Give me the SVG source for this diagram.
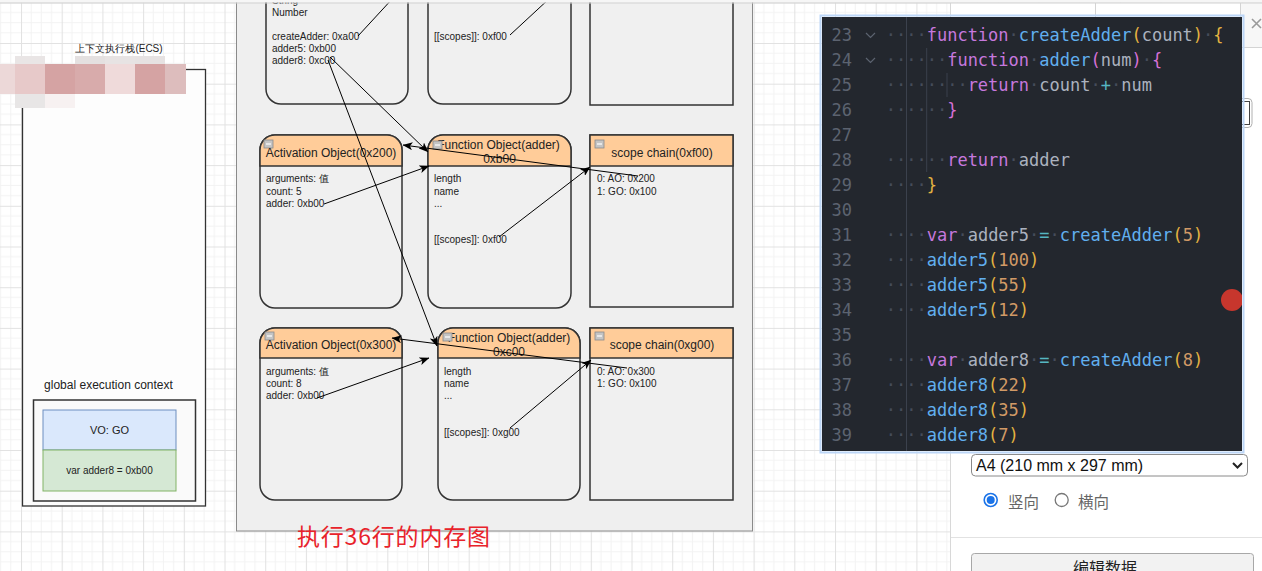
<svg xmlns="http://www.w3.org/2000/svg" width="1262" height="571" viewBox="0 0 1262 571">
<style>
.t{font-family:"Liberation Sans",Arial,sans-serif;fill:#222}
.b10{font-size:10px}
.h12{font-size:12px}
.node{fill:#f0f0f0;stroke:#333;stroke-width:1.5}
.hdr{fill:#ffcc99;stroke:#333;stroke-width:1.5}
.conn{stroke:#000;stroke-width:1;fill:none}
.code{font-family:"DejaVu Sans Mono","Liberation Mono",monospace;font-size:17px;fill:#abb2bf}
.ln{fill:#5c6370;text-anchor:end}
.kw{fill:#c678dd}.fn{fill:#61afef}.b1{fill:#e3b341}.b2{fill:#d670d6}.op{fill:#56b6c2}.nm{fill:#d19a66}.ws{fill:#454c5a}
.ui{font-family:"Liberation Sans",Arial,"Noto Sans CJK SC",sans-serif}
</style>
<defs>
<pattern id="grid" x="21" y="43" width="40.7" height="40.7" patternUnits="userSpaceOnUse">
<rect width="40.7" height="40.7" fill="#fff"/>
<path d="M10.2,0V40.7M20.35,0V40.7M30.5,0V40.7M0,10.2H40.7M0,20.35H40.7M0,30.5H40.7" stroke="#f3f3f3" stroke-width="1"/>
<path d="M0.5,0V40.7M0,0.5H40.7" stroke="#e2e2e2" stroke-width="1"/>
</pattern>
<marker id="arr" markerWidth="10" markerHeight="8" refX="9.5" refY="4" orient="auto" markerUnits="userSpaceOnUse">
<path d="M0,0 L10,4 L0,8 L2.5,4 Z" fill="#000"/>
</marker>
<clipPath id="panelclip"><rect x="822" y="17" width="420" height="434"/></clipPath>
<g id="minus"><rect x="0" y="0" width="9" height="8" fill="#c4c4c4" stroke="#8a8a8a" stroke-width="0.8"/><path d="M2,4H7" stroke="#fff" stroke-width="1.2"/></g>
</defs>

<rect width="1262" height="571" fill="url(#grid)"/>

<!-- left: ECS -->
<g id="ecs">
<rect x="22.5" y="69.5" width="183" height="436.5" fill="#fdfdfd" stroke="#333" stroke-width="1.3"/>
<text class="t" x="119" y="51.5" font-size="10" text-anchor="middle" font-family="Liberation Sans, Noto Sans CJK SC, sans-serif">上下文执行栈(ECS)</text>
</g>
<g id="gec">
<text class="t h12" x="108.5" y="389" text-anchor="middle">global execution context</text>
<rect x="33.5" y="400" width="162" height="101" fill="#fafafa" stroke="#333" stroke-width="1.5"/>
</g>
<g id="vo">
<rect x="43" y="410" width="133" height="40" fill="#dae8fc" stroke="#6c8ebf"/>
<text class="t" x="109.5" y="434" font-size="11" text-anchor="middle">VO: GO</text>
</g>
<g id="var-adder8">
<rect x="43" y="450" width="133" height="41" fill="#d5e8d4" stroke="#82b366"/>
<text class="t b10" x="109.5" y="474" text-anchor="middle">var adder8 = 0xb00</text>
</g>
<!-- mosaic -->
<g id="mosaic">
<rect x="15" y="56" width="30" height="8" fill="#e9e5e5"/>
<rect x="75" y="56" width="30" height="8" fill="#e4e0e0"/>
<rect x="105" y="56" width="30" height="8" fill="#e7e3e3"/>
<rect x="135" y="56" width="30" height="8" fill="#e6e2e2"/>
<rect x="0" y="64" width="15" height="30" fill="#ecd8d8"/>
<rect x="15" y="64" width="30" height="30" fill="#e7c9c9"/>
<rect x="45" y="64" width="30" height="30" fill="#d5a3a3"/>
<rect x="75" y="64" width="30" height="30" fill="#d8abab"/>
<rect x="105" y="64" width="30" height="30" fill="#efdada"/>
<rect x="135" y="64" width="30" height="30" fill="#d5a3a3"/>
<rect x="165" y="64" width="21" height="30" fill="#ddbdbd"/>
<rect x="15" y="94" width="30" height="14" fill="#e8e6e6"/>
<rect x="45" y="94" width="30" height="14" fill="#f7f1f1"/>
</g>

<!-- central panel -->
<rect id="memory-panel" x="236.5" y="-10" width="516" height="541" fill="#efefef" stroke="#8a8a8a" stroke-width="1"/>

<g id="go">
<rect class="node" x="266" y="-60" width="142" height="164" rx="15"/>
<text class="t b10" x="272" y="3.5">String</text>
<text class="t b10" x="272" y="15.5">Number</text>
<text class="t b10" x="272" y="39.5">createAdder: 0xa00</text>
<text class="t b10" x="272" y="51.5">adder5: 0xb00</text>
<text class="t b10" x="272" y="63.5">adder8: 0xc00</text>
</g>
<g id="fo-top">
<rect class="node" x="428" y="-60" width="143" height="164" rx="15"/>
<text class="t b10" x="434" y="2">...</text>
<text class="t b10" x="434" y="39.5">[[scopes]]: 0xf00</text>
</g>
<g id="sc-top">
<rect class="node" x="590" y="-60" width="143" height="165"/>
</g>

<g id="ao-0x200">
<rect class="node" x="260" y="135" width="142" height="173" rx="15"/>
<path class="hdr" d="M260,166 V150 A15,15 0 0 1 275,135 H387 A15,15 0 0 1 402,150 V166 Z"/>
<use href="#minus" x="264" y="140"/>
<text class="t h12" x="331" y="156.5" text-anchor="middle">Activation Object(0x200)</text>
<text class="t b10" x="266" y="182" font-family="Liberation Sans, Noto Sans CJK SC, sans-serif">arguments: 值</text>
<text class="t b10" x="266" y="194.5">count: 5</text>
<text class="t b10" x="266" y="207">adder: 0xb00</text>
</g>
<g id="fo-0xb00">
<rect class="node" x="428" y="135" width="143" height="173" rx="15"/>
<path class="hdr" d="M428,166 V150 A15,15 0 0 1 443,135 H556 A15,15 0 0 1 571,150 V166 Z"/>
<text class="t h12" x="498.5" y="148.5" text-anchor="middle">Function Object(adder)</text>
<text class="t h12" x="499.5" y="162.5" text-anchor="middle">0xb00</text>
<use href="#minus" x="433" y="141"/>
<text class="t b10" x="434" y="182">length</text>
<text class="t b10" x="434" y="194.5">name</text>
<text class="t b10" x="434" y="207">...</text>
<text class="t b10" x="434" y="243">[[scopes]]: 0xf00</text>
</g>
<g id="sc-0xf00">
<rect class="node" x="590" y="135" width="143" height="172"/>
<rect class="hdr" x="590" y="135" width="143" height="31"/>
<use href="#minus" x="595" y="140"/>
<text class="t h12" x="662" y="156.5" text-anchor="middle">scope chain(0xf00)</text>
<text class="t b10" x="597" y="182">0: AO: 0x200</text>
<text class="t b10" x="597" y="194.5">1: GO: 0x100</text>
</g>

<g id="ao-0x300">
<rect class="node" x="260" y="328" width="142" height="172" rx="15"/>
<path class="hdr" d="M260,358 V343 A15,15 0 0 1 275,328 H387 A15,15 0 0 1 402,343 V358 Z"/>
<use href="#minus" x="265" y="332"/>
<text class="t h12" x="331" y="348.5" text-anchor="middle">Activation Object(0x300)</text>
<text class="t b10" x="266" y="374.5" font-family="Liberation Sans, Noto Sans CJK SC, sans-serif">arguments: 值</text>
<text class="t b10" x="266" y="387">count: 8</text>
<text class="t b10" x="266" y="399">adder: 0xb00</text>
</g>
<g id="fo-0xc00">
<rect class="node" x="438" y="328" width="142" height="172" rx="15"/>
<path class="hdr" d="M438,358 V343 A15,15 0 0 1 453,328 H565 A15,15 0 0 1 580,343 V358 Z"/>
<text class="t h12" x="509" y="341.5" text-anchor="middle">Function Object(adder)</text>
<text class="t h12" x="509" y="355.5" text-anchor="middle">0xc00</text>
<use href="#minus" x="443" y="333"/>
<text class="t b10" x="444" y="374.5">length</text>
<text class="t b10" x="444" y="387">name</text>
<text class="t b10" x="444" y="399">...</text>
<text class="t b10" x="444" y="436">[[scopes]]: 0xg00</text>
</g>
<g id="sc-0xg00">
<rect class="node" x="590" y="328" width="143" height="172"/>
<rect class="hdr" x="590" y="328" width="143" height="30"/>
<use href="#minus" x="595" y="332"/>
<text class="t h12" x="662" y="348.5" text-anchor="middle">scope chain(0xg00)</text>
<text class="t b10" x="597" y="374.5">0: AO: 0x300</text>
<text class="t b10" x="597" y="387">1: GO: 0x100</text>
</g>

<g id="connectors">
<path class="conn" d="M358,36 L394,-3"/>
<path class="conn" d="M510,35 L550,-2"/>
<path class="conn" d="M330,57 L428,152" marker-end="url(#arr)"/>
<path class="conn" d="M328,60 L437,346" marker-end="url(#arr)"/>
<path class="conn" d="M324,204 L429,166" marker-end="url(#arr)"/>
<path class="conn" d="M638,176 L403,145" marker-end="url(#arr)"/>
<path class="conn" d="M499,237 L590,167" marker-end="url(#arr)"/>
<path class="conn" d="M317,398 L429,358" marker-end="url(#arr)"/>
<path class="conn" d="M627,368 L392,338" marker-end="url(#arr)"/>
<path class="conn" d="M510,428 L591,360" marker-end="url(#arr)"/>
</g>

<text id="caption" x="297" y="545" font-family="Noto Sans CJK SC, sans-serif" font-size="23" fill="#e8232b" textLength="193" lengthAdjust="spacing">执行36行的内存图</text>

<!-- right sidebar -->
<g id="sidebar">
<rect x="951" y="3" width="311" height="568" fill="#fff"/>
<path d="M950.5,3V571" stroke="#d8d8d8"/>
<rect x="1240" y="3" width="22" height="45" fill="#f7f7f7"/>
<path d="M1095.5,3V17M1240.5,3V48M1240,47.5H1262" stroke="#d4d4d4"/>
<path d="M1252,19L1261,28M1261,19L1252,28" stroke="#9a9a9a" stroke-width="1.6"/>
<rect x="1220" y="98.5" width="32" height="29" rx="4" fill="#fff" stroke="#b0b0b0"/>
<rect x="1222.5" y="101.5" width="27" height="23" fill="none" stroke="#444"/>
<rect x="971.5" y="454.5" width="276" height="21.5" rx="4" fill="#fff" stroke="#8a8a8a"/>
<text class="ui" x="976" y="470.5" font-size="16" fill="#111">A4 (210 mm x 297 mm)</text>
<path d="M1233,463 L1237.5,467.5 L1242,463" stroke="#222" stroke-width="2" fill="none"/>
<circle cx="990.7" cy="500" r="6.5" fill="#fff" stroke="#1a73e8" stroke-width="1.6"/>
<circle cx="990.7" cy="500" r="4" fill="#1a73e8"/>
<text class="ui" x="1008" y="508" font-size="15.5" fill="#666" font-family="Noto Sans CJK SC, sans-serif">竖向</text>
<circle cx="1061.7" cy="500" r="6.5" fill="#fff" stroke="#777" stroke-width="1.3"/>
<text class="ui" x="1078" y="508" font-size="15.5" fill="#666" font-family="Noto Sans CJK SC, sans-serif">横向</text>
<path d="M951,537.5H1262" stroke="#e2e2e2"/>
<rect x="971.5" y="553.5" width="282" height="30" rx="3" fill="#f2f2f2" stroke="#a8a8a8"/>
<text class="ui" x="1073" y="574" font-size="16" fill="#222" font-family="Noto Sans CJK SC, sans-serif">编辑数据</text>
</g>

<!-- top strip -->
<rect x="0" y="0" width="1262" height="2.5" fill="#f6f6f6"/>
<path d="M0,3H1262" stroke="#d2d2d2"/>

<!-- code panel -->
<g id="code-panel">
<rect x="820.5" y="15.5" width="423" height="437" fill="none" stroke="#bcd6f7" stroke-width="2"/>
<rect x="822" y="17" width="420" height="434" fill="#23272e"/>
<path d="M906.5,17V451M926.7,48V172M947,73V97" stroke="#3b414d" stroke-width="1"/>
<path d="M866,33L870.5,37.5L875,33M866,58L870.5,62.5L875,58" stroke="#5c6370" stroke-width="1.2" fill="none"/>
<g class="code">
<text class="ln" x="852" y="41">23</text>
<text class="ln" x="852" y="66">24</text>
<text class="ln" x="852" y="91">25</text>
<text class="ln" x="852" y="116">26</text>
<text class="ln" x="852" y="141">27</text>
<text class="ln" x="852" y="166">28</text>
<text class="ln" x="852" y="191">29</text>
<text class="ln" x="852" y="216">30</text>
<text class="ln" x="852" y="241">31</text>
<text class="ln" x="852" y="266">32</text>
<text class="ln" x="852" y="291">33</text>
<text class="ln" x="852" y="316">34</text>
<text class="ln" x="852" y="341">35</text>
<text class="ln" x="852" y="366">36</text>
<text class="ln" x="852" y="391">37</text>
<text class="ln" x="852" y="416">38</text>
<text class="ln" x="852" y="441">39</text>
<text x="885.74" y="41"><tspan class="ws">····</tspan><tspan class="kw">function</tspan><tspan class="ws">·</tspan><tspan class="fn">createAdder</tspan><tspan class="b1">(</tspan>count<tspan class="b1">)</tspan><tspan class="ws">·</tspan><tspan class="b1">{</tspan></text>
<text x="885.74" y="66"><tspan class="ws">······</tspan><tspan class="kw">function</tspan><tspan class="ws">·</tspan><tspan class="fn">adder</tspan><tspan class="b2">(</tspan>num<tspan class="b2">)</tspan><tspan class="ws">·</tspan><tspan class="b2">{</tspan></text>
<text x="885.74" y="91"><tspan class="ws">········</tspan><tspan class="kw">return</tspan><tspan class="ws">·</tspan>count<tspan class="ws">·</tspan><tspan class="op">+</tspan><tspan class="ws">·</tspan>num</text>
<text x="885.74" y="116"><tspan class="ws">······</tspan><tspan class="b2">}</tspan></text>
<text x="885.74" y="166"><tspan class="ws">······</tspan><tspan class="kw">return</tspan><tspan class="ws">·</tspan>adder</text>
<text x="885.74" y="191"><tspan class="ws">····</tspan><tspan class="b1">}</tspan></text>
<text x="885.74" y="241"><tspan class="ws">····</tspan><tspan class="kw">var</tspan><tspan class="ws">·</tspan>adder5<tspan class="ws">·</tspan><tspan class="op">=</tspan><tspan class="ws">·</tspan><tspan class="fn">createAdder</tspan><tspan class="b1">(</tspan><tspan class="nm">5</tspan><tspan class="b1">)</tspan></text>
<text x="885.74" y="266"><tspan class="ws">····</tspan><tspan class="fn">adder5</tspan><tspan class="b1">(</tspan><tspan class="nm">100</tspan><tspan class="b1">)</tspan></text>
<text x="885.74" y="291"><tspan class="ws">····</tspan><tspan class="fn">adder5</tspan><tspan class="b1">(</tspan><tspan class="nm">55</tspan><tspan class="b1">)</tspan></text>
<text x="885.74" y="316"><tspan class="ws">····</tspan><tspan class="fn">adder5</tspan><tspan class="b1">(</tspan><tspan class="nm">12</tspan><tspan class="b1">)</tspan></text>
<text x="885.74" y="366"><tspan class="ws">····</tspan><tspan class="kw">var</tspan><tspan class="ws">·</tspan>adder8<tspan class="ws">·</tspan><tspan class="op">=</tspan><tspan class="ws">·</tspan><tspan class="fn">createAdder</tspan><tspan class="b1">(</tspan><tspan class="nm">8</tspan><tspan class="b1">)</tspan></text>
<text x="885.74" y="391"><tspan class="ws">····</tspan><tspan class="fn">adder8</tspan><tspan class="b1">(</tspan><tspan class="nm">22</tspan><tspan class="b1">)</tspan></text>
<text x="885.74" y="416"><tspan class="ws">····</tspan><tspan class="fn">adder8</tspan><tspan class="b1">(</tspan><tspan class="nm">35</tspan><tspan class="b1">)</tspan></text>
<text x="885.74" y="441"><tspan class="ws">····</tspan><tspan class="fn">adder8</tspan><tspan class="b1">(</tspan><tspan class="nm">7</tspan><tspan class="b1">)</tspan></text>
</g>
<circle cx="1232" cy="300" r="11" fill="#c7362d" clip-path="url(#panelclip)"/>
</g>
</svg>
